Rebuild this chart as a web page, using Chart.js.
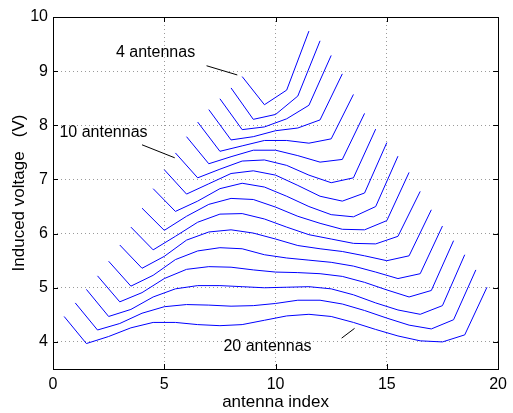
<!DOCTYPE html>
<html>
<head>
<meta charset="utf-8">
<script src="https://cdn.jsdelivr.net/npm/chart.js@4/dist/chart.umd.min.js"></script>
<style>
  html, body { margin: 0; padding: 0; background: #fff; }
  #wrap { width: 513px; height: 413px; }
</style>
</head>
<body>
<div id="wrap"><canvas id="voltChart" width="513" height="413"></canvas></div>
<script>
// antenna counts, one curve each
var antennaCounts = [4, 5, 6, 7, 8, 9, 10, 11, 12, 13, 14, 15, 16, 17, 18, 19, 20];

// induced voltage (V) per antenna
var v4  = [8.90, 8.38, 8.65, 9.74];
var v5  = [8.69, 8.11, 8.20, 8.54, 9.56];
var v6  = [8.49, 7.92, 7.97, 8.12, 8.37, 9.29];
var v7  = [8.29, 7.73, 7.79, 7.90, 7.95, 8.10, 8.95];
var v8  = [8.06, 7.52, 7.62, 7.72, 7.72, 7.67, 7.75, 8.57];
var v9  = [7.79, 7.29, 7.42, 7.54, 7.54, 7.44, 7.32, 7.37, 8.22];
var v10 = [7.49, 7.03, 7.19, 7.34, 7.36, 7.26, 7.08, 6.94, 7.03, 7.93];
var v11 = [7.18, 6.73, 6.92, 7.11, 7.16, 7.08, 6.89, 6.69, 6.60, 6.75, 7.68];
var v12 = [6.83, 6.41, 6.60, 6.83, 6.93, 6.86, 6.69, 6.50, 6.35, 6.31, 6.50, 7.43];
var v13 = [6.47, 6.06, 6.32, 6.54, 6.65, 6.63, 6.49, 6.32, 6.19, 6.08, 6.07, 6.24, 7.13];
var v14 = [6.12, 5.70, 5.95, 6.21, 6.36, 6.37, 6.27, 6.12, 5.98, 5.90, 5.82, 5.81, 5.95, 6.78];
var v15 = [5.79, 5.36, 5.58, 5.88, 6.03, 6.07, 6.01, 5.90, 5.78, 5.72, 5.67, 5.59, 5.50, 5.59, 6.44];
var v16 = [5.49, 5.03, 5.23, 5.52, 5.68, 5.74, 5.72, 5.61, 5.55, 5.51, 5.47, 5.40, 5.29, 5.17, 5.26, 6.14];
var v17 = [5.22, 4.74, 4.91, 5.17, 5.34, 5.39, 5.38, 5.33, 5.29, 5.28, 5.26, 5.21, 5.10, 4.96, 4.83, 4.95, 5.87];
var v18 = [4.97, 4.47, 4.60, 4.83, 4.98, 5.04, 5.04, 5.02, 5.00, 5.01, 5.02, 4.98, 4.87, 4.72, 4.59, 4.51, 4.67, 5.61];
var v19 = [4.72, 4.22, 4.34, 4.53, 4.65, 4.69, 4.68, 4.66, 4.67, 4.71, 4.77, 4.77, 4.70, 4.58, 4.44, 4.31, 4.24, 4.41, 5.33];
var v20 = [4.47, 3.97, 4.10, 4.26, 4.36, 4.36, 4.32, 4.30, 4.32, 4.40, 4.48, 4.51, 4.47, 4.36, 4.23, 4.11, 4.02, 4.00, 4.13, 5.01];
var voltages = [v4, v5, v6, v7, v8, v9, v10, v11, v12, v13, v14, v15, v16, v17, v18, v19, v20];

// tick labels
var xTicks = [0, 5, 10, 15, 20];
var yTicks = [4, 5, 6, 7, 8, 9, 10];

// callout labels: text, text anchor, pointer start, pointer end (data units)
var callouts = [
    { text: '4 antennas',  at: [2.83, 9.34], from: [6.90, 9.10], to: [8.28, 8.93] },
    { text: '10 antennas', at: [0.29, 7.86], from: [4.00, 7.64], to: [5.47, 7.40] },
    { text: '20 antennas', at: [7.66, 3.92], from: [12.97, 4.07], to: [13.55, 4.25] }
];

var FONT = '"Liberation Sans", Arial, Helvetica, sans-serif';

// curves are centred on index 10, one unit apart
var datasets = [];
for (var i = 0; i < antennaCounts.length; i++) {
    var n = antennaCounts[i];
    var pts = [];
    for (var k = 0; k < n; k++) {
        pts.push({ x: (20 - n) / 2 + 0.5 + k, y: voltages[i][k] });
    }
    datasets.push({
        label: n + ' antennas',
        data: pts,
        borderColor: '#0000ff',
        borderWidth: 1,
        pointRadius: 0,
        tension: 0,
        fill: false
    });
}

// box, inward ticks and callouts, matlab style
var matlabAxes = {
    id: 'matlabAxes',
    afterDatasetsDraw: function (chart) {
        var ctx = chart.ctx;
        var a = chart.chartArea;
        var xs = chart.scales.x, ys = chart.scales.y;
        var tl = 5;
        ctx.save();
        ctx.strokeStyle = '#000';
        ctx.lineWidth = 1;
        ctx.beginPath();
        xTicks.forEach(function (t) {
            var px = Math.round(xs.getPixelForValue(t)) + 0.5;
            ctx.moveTo(px, a.bottom); ctx.lineTo(px, a.bottom - tl);
            ctx.moveTo(px, a.top); ctx.lineTo(px, a.top + tl);
        });
        yTicks.forEach(function (t) {
            var py = Math.round(ys.getPixelForValue(t)) + 0.5;
            ctx.moveTo(a.left, py); ctx.lineTo(a.left + tl, py);
            ctx.moveTo(a.right, py); ctx.lineTo(a.right - tl, py);
        });
        ctx.stroke();
        ctx.strokeRect(Math.round(a.left) + 0.5, Math.round(a.top) + 0.5,
                       Math.round(a.right - a.left), Math.round(a.bottom - a.top));

        ctx.fillStyle = '#000';
        ctx.font = '16px ' + FONT;
        ctx.textBaseline = 'middle';
        ctx.textAlign = 'left';
        callouts.forEach(function (c) {
            ctx.fillText(c.text, xs.getPixelForValue(c.at[0]), ys.getPixelForValue(c.at[1]));
            ctx.beginPath();
            ctx.moveTo(xs.getPixelForValue(c.from[0]), ys.getPixelForValue(c.from[1]));
            ctx.lineTo(xs.getPixelForValue(c.to[0]), ys.getPixelForValue(c.to[1]));
            ctx.stroke();
        });
        ctx.restore();
    }
};

var ctx = document.getElementById('voltChart');
var voltChart = new Chart(ctx, {
    type: 'line',
    data: { datasets: datasets },
    options: {
        responsive: false,
        animation: false,
        layout: { padding: { top: 17, right: 12, left: 0, bottom: 0 } },
        plugins: {
            legend: { display: false },
            tooltip: { enabled: false }
        },
        scales: {
            x: {
                type: 'linear',
                min: 0,
                max: 20,
                afterBuildTicks: function (scale) {
                    scale.ticks = xTicks.map(function (v) { return { value: v }; });
                },
                afterFit: function (scale) { scale.height = 44; },
                grid: {
                    color: '#9a9a9a',
                    lineWidth: 1,
                    tickLength: 0,
                    drawTicks: false
                },
                border: { display: false, dash: [1, 3] },
                ticks: {
                    color: '#000',
                    font: { family: FONT, size: 16 },
                    padding: 6,
                    maxRotation: 0
                },
                title: {
                    display: true,
                    text: 'antenna index',
                    color: '#000',
                    font: { family: FONT, size: 17 },
                    padding: { top: -3, bottom: 0 }
                }
            },
            y: {
                type: 'linear',
                min: 3.5,
                max: 10,
                afterBuildTicks: function (scale) {
                    scale.ticks = yTicks.map(function (v) { return { value: v }; });
                },
                afterFit: function (scale) { scale.width = 53; },
                grid: {
                    color: '#9a9a9a',
                    lineWidth: 1,
                    drawTicks: false
                },
                border: { display: false, dash: [1, 3] },
                ticks: {
                    color: '#000',
                    font: { family: FONT, size: 16 },
                    padding: 5
                },
                title: {
                    display: true,
                    text: 'Induced voltage   (V)',
                    color: '#000',
                    font: { family: FONT, size: 17 },
                    padding: { top: 9, bottom: 0 }
                }
            }
        }
    },
    plugins: [matlabAxes]
});
</script>
</body>
</html>
